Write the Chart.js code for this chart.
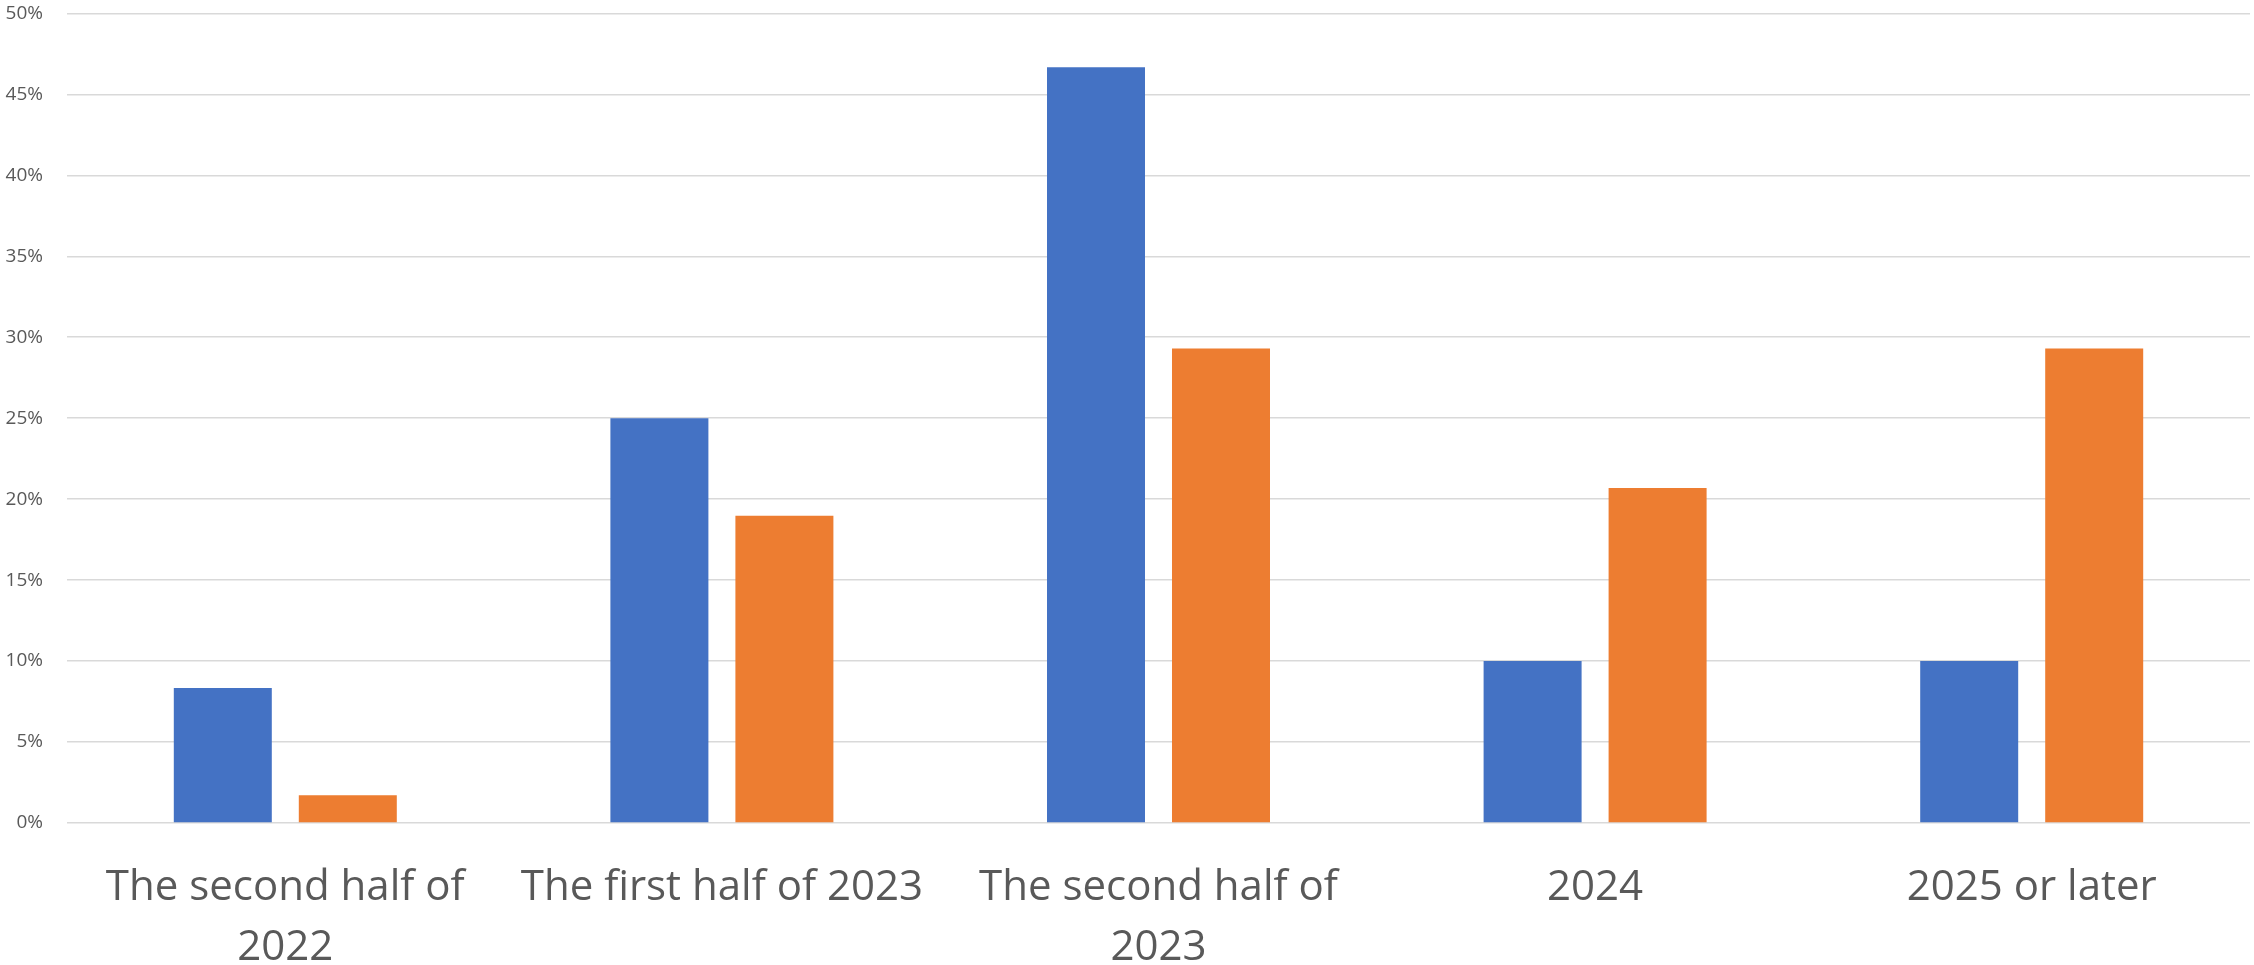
<!DOCTYPE html>
<html>
<head>
<meta charset="utf-8">
<script src="https://cdn.jsdelivr.net/npm/chart.js@4.4.1/dist/chart.umd.min.js"></script>
<style>
  html, body { margin: 0; padding: 0; background: #ffffff; }
  #wrap { width: 2254px; height: 965px; position: relative; }
</style>
</head>
<body>
<div id="wrap"><canvas id="c"></canvas></div>
<script>
// ---- data ----
const categories = [
  ["The second half of", "2022"],
  "The first half of 2023",
  ["The second half of", "2023"],
  "2024",
  "2025 or later"
];
const seriesBlue = [8.33, 25.0, 46.67, 10.0, 10.0];
const seriesOrange = [1.72, 18.97, 29.31, 20.69, 29.31];
const yTicks = [0, 5, 10, 15, 20, 25, 30, 35, 40, 45, 50];

const ctx = document.getElementById('c');
new Chart(ctx, {
  type: 'bar',
  data: {
    labels: categories,
    datasets: [
      { label: 'Series 1', data: seriesBlue, backgroundColor: '#4472C4',
        categoryPercentage: 0.5726, barPercentage: 0.784 },
      { label: 'Series 2', data: seriesOrange, backgroundColor: '#ED7D31',
        categoryPercentage: 0.5726, barPercentage: 0.784 }
    ]
  },
  options: {
    responsive: true,
    maintainAspectRatio: false,
    animation: false,
    layout: { padding: { top: 0, right: 4, left: 0, bottom: 0 } },
    plugins: { legend: { display: false }, tooltip: { enabled: false } },
    scales: {
      x: {
        grid: { display: false, drawTicks: false },
        border: { display: false },
        afterFit: (scale) => { scale.height = 142; },
        ticks: {
          color: '#595959',
          font: { family: 'Open Sans', size: 42, lineHeight: 1.43 },
          padding: 35,
          maxRotation: 0,
          autoSkip: false
        }
      },
      y: {
        min: yTicks[0],
        max: yTicks[yTicks.length - 1],
        afterBuildTicks: (scale) => { scale.ticks = yTicks.map(v => ({ value: v })); },
        afterFit: (scale) => { scale.width = 67; },
        grid: { color: '#D9D9D9', lineWidth: 1.5, drawTicks: true, tickLength: 22, tickColor: 'rgba(0,0,0,0)' },
        border: { display: false },
        ticks: {
          color: '#595959',
          font: { family: 'Open Sans', size: 19 },
          padding: 2,
          callback: (v) => v + '%'
        }
      }
    }
  }
});
</script>
</body>
</html>
